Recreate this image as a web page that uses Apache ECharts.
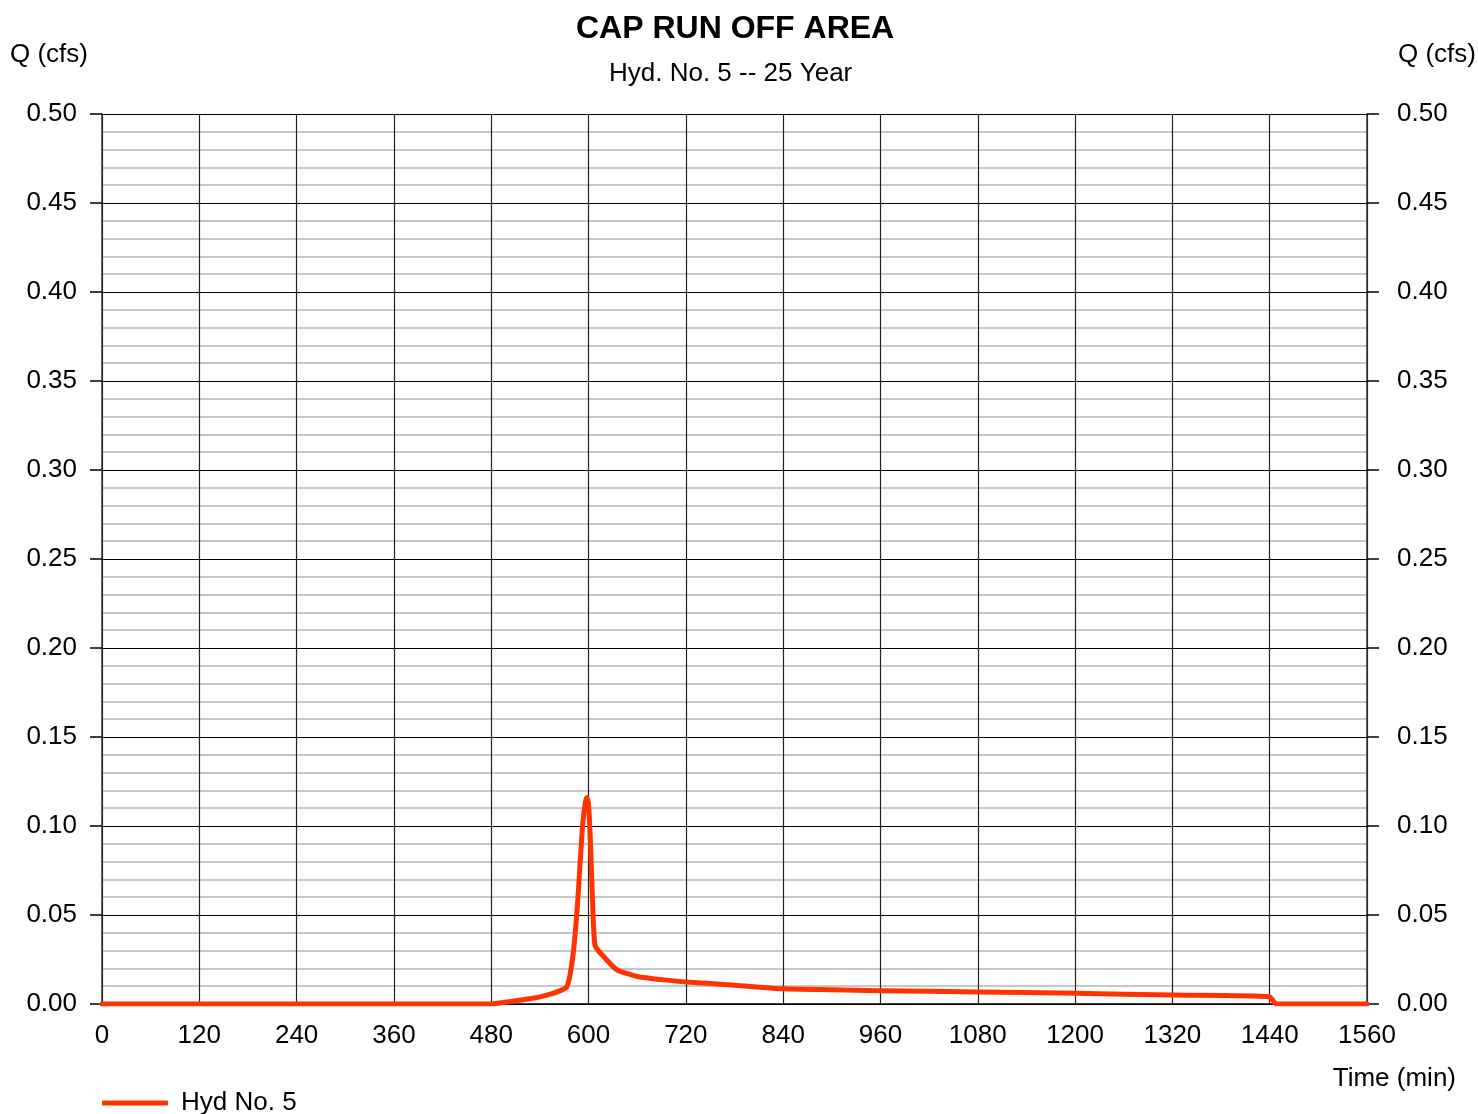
<!DOCTYPE html>
<html>
<head>
<meta charset="utf-8">
<script src="https://cdn.jsdelivr.net/npm/echarts@6/dist/echarts.min.js"></script>
<style>
html,body{margin:0;padding:0;background:#fff;}
#chart{width:1478px;height:1114px;}
</style>
</head>
<body>
<div id="chart"></div>
<script>
const times = [0, 480, 495, 510, 525, 540, 555, 565, 573, 577, 581, 584, 587, 590, 593, 596, 598, 600, 602, 604, 606, 608, 612, 620, 628, 636, 650, 665, 690, 720, 780, 840, 900, 960, 1080, 1200, 1320, 1440, 1448, 1560];
const flows = [0, 0, 0.0008, 0.0018, 0.0028, 0.004, 0.0058, 0.0075, 0.0095, 0.016, 0.028, 0.042, 0.06, 0.082, 0.102, 0.113, 0.116, 0.112, 0.095, 0.07, 0.045, 0.033, 0.030, 0.026, 0.022, 0.019, 0.0168, 0.015, 0.0137, 0.0124, 0.0106, 0.0085, 0.008, 0.0075, 0.0068, 0.006, 0.005, 0.004, 0, 0];
const xTicks = [0, 120, 240, 360, 480, 600, 720, 840, 960, 1080, 1200, 1320, 1440, 1560];
const seriesName = 'Hyd No. 5';

const chart = echarts.init(document.getElementById('chart'), null, {renderer: 'canvas'});
const font = 'Liberation Sans, Arial, sans-serif';
const yAxisCommon = {
  type: 'value', min: 0, max: 0.5, interval: 0.05,
  axisLine: {show: true, lineStyle: {color: '#333', width: 1.5}},
  axisTick: {show: true, length: 12, lineStyle: {color: '#000', width: 1.5}},
  minorTick: {show: false, splitNumber: 5},
};
chart.setOption({
  animation: false,
  backgroundColor: '#fff',
  title: [
    {text: 'CAP RUN OFF AREA', left: 571, top: 8, textStyle: {fontSize: 32, fontWeight: 'bold', color: '#000', fontFamily: font}},
    {text: 'Hyd. No. 5 -- 25 Year', left: 604, top: 56, textStyle: {fontSize: 26, fontWeight: 'normal', color: '#000', fontFamily: font}}
  ],
  grid: {left: 102, right: 111, top: 114, bottom: 110, containLabel: false},
  legend: {
    show: true, left: 97, top: 1085, itemWidth: 66, itemHeight: 5,
    icon: 'roundRect',
    textStyle: {fontSize: 26, color: '#000', fontFamily: font, padding: [0, 0, 0, 8]},
    data: [seriesName]
  },
  xAxis: {
    type: 'value', min: 0, max: 1560, interval: 120,
    axisLine: {show: true, lineStyle: {color: '#000', width: 1.5}},
    axisTick: {show: false},
    axisLabel: {fontSize: 26, color: '#000', fontFamily: font, margin: 19, formatter: v => String(v)},
    splitLine: {show: true, lineStyle: {color: '#222', width: 1.2}}
  },
  yAxis: [
    Object.assign({}, yAxisCommon, {
      position: 'left',
      axisLabel: {fontSize: 26, color: '#000', fontFamily: font, margin: 25, formatter: v => v.toFixed(2)},
      splitLine: {show: true, lineStyle: {color: '#000', width: 1.2}},
      minorSplitLine: {show: true, lineStyle: {color: '#c8c8c8', width: 2}}
    }),
    Object.assign({}, yAxisCommon, {
      position: 'right',
      axisLabel: {fontSize: 26, color: '#000', fontFamily: font, margin: 30, formatter: v => v.toFixed(2)},
      splitLine: {show: false}
    })
  ],
  graphic: [
    {type: 'text', left: 10, top: 42, style: {text: 'Q (cfs)', fontSize: 26, fill: '#000', fontFamily: font}},
    {type: 'text', right: 2, top: 42, style: {text: 'Q (cfs)', fontSize: 26, fill: '#000', fontFamily: font}},
    {type: 'text', right: 22, top: 1066, style: {text: 'Time (min)', fontSize: 26, fill: '#000', fontFamily: font}}
  ],
  series: [{
    name: seriesName, type: 'line', yAxisIndex: 0,
    data: times.map((t, i) => [t, flows[i]]),
    showSymbol: false, symbol: 'none',
    smooth: 0.2,
    lineStyle: {color: '#ff3300', width: 5, cap: 'round', join: 'round'},
    itemStyle: {color: '#ff3300'},
    z: 5
  }]
});
</script>
</body>
</html>
